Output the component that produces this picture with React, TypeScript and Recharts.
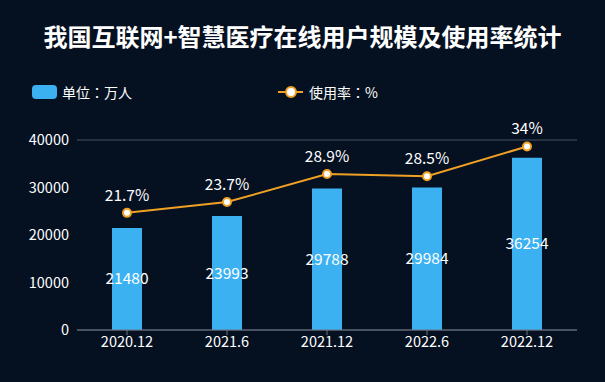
import {
  Bar,
  CartesianGrid,
  ComposedChart,
  LabelList,
  Line,
  XAxis,
  YAxis,
} from "recharts";

const periods = ["2020.12", "2021.6", "2021.12", "2022.6", "2022.12"];
const users = [21480, 23993, 29788, 29984, 36254];
const usageRate = [21.7, 23.7, 28.9, 28.5, 34];
const userTicks = [0, 10000, 20000, 30000, 40000];

const data = periods.map((p, i) => ({
  period: p,
  users: users[i],
  rate: usageRate[i],
}));

const BG = "#051121";
const BLUE = "#3cb1f2";
const ORANGE = "#f0a024";
const FONT = "'Noto Sans CJK SC', 'Noto Sans', sans-serif";
// JP face centres the full-width colon like the original
const LEGEND_FONT = "'Noto Sans CJK JP', 'Noto Sans CJK SC', sans-serif";

export default function App() {
  return (
    <div
      style={{
        position: "absolute",
        left: 0,
        top: 0,
        width: 605,
        height: 382,
        background: BG,
        fontFamily: FONT,
        overflow: "hidden",
      }}
    >
      <div
        style={{
          position: "absolute",
          top: 18,
          width: 605,
          textAlign: "center",
          color: "#fff",
          fontSize: 24,
          fontWeight: "bold",
          lineHeight: "36px",
        }}
      >
        我国互联网+智慧医疗在线用户规模及使用率统计
      </div>

      <div
        style={{
          position: "absolute",
          top: 82,
          left: 32,
          display: "flex",
          alignItems: "center",
          color: "#fff",
          fontSize: 14,
          lineHeight: "20px",
          fontFamily: LEGEND_FONT,
        }}
      >
        <span
          style={{
            width: 25,
            height: 14,
            borderRadius: 4,
            background: BLUE,
            marginRight: 5,
            display: "inline-block",
          }}
        />
        单位：万人
      </div>
      <div
        style={{
          position: "absolute",
          top: 82,
          left: 278,
          display: "flex",
          alignItems: "center",
          color: "#fff",
          fontSize: 14,
          lineHeight: "20px",
          fontFamily: LEGEND_FONT,
        }}
      >
        <svg width={25} height={14} style={{ marginRight: 6 }}>
          <line x1={0} y1={7} x2={25} y2={7} stroke={ORANGE} strokeWidth={2} />
          <circle cx={13} cy={7} r={5} fill="#fff" stroke={ORANGE} strokeWidth={2} />
        </svg>
        使用率：%
      </div>

      <ComposedChart
        width={605}
        height={382}
        data={data}
        margin={{ top: 140, right: 28, bottom: 22, left: 17 }}
      >
        <CartesianGrid vertical={false} stroke="#4b535e" />
        <XAxis
          dataKey="period"
          stroke="#6c7480"
          tickLine={{ stroke: "#6c7480" }}
          tick={{ fill: "#fff", fontSize: 14.5, fontFamily: FONT }}
          tickSize={5}
        />
        <YAxis
          yAxisId="left"
          width={60}
          domain={[0, 40000]}
          ticks={userTicks}
          axisLine={false}
          tickLine={false}
          tick={{ fill: "#fff", fontSize: 14.5, fontFamily: FONT }}
        />
        <YAxis yAxisId="right" orientation="right" hide domain={[0, 35.2]} />
        <Bar
          yAxisId="left"
          dataKey="users"
          fill={BLUE}
          barSize={30}
          isAnimationActive={false}
        >
          <LabelList
            dataKey="users"
            position="center"
            fill="#fff"
            fontSize={15.5}
            fontFamily={FONT}
          />
        </Bar>
        <Line
          yAxisId="right"
          dataKey="rate"
          stroke={ORANGE}
          strokeWidth={2}
          dot={{ r: 4, fill: "#fff", stroke: ORANGE, strokeWidth: 2 }}
          isAnimationActive={false}
        >
          <LabelList
            dataKey="rate"
            position="top"
            offset={12}
            fill="#fff"
            fontSize={15.5}
            fontFamily={FONT}
            formatter={(v: number) => `${v}%`}
          />
        </Line>
      </ComposedChart>
    </div>
  );
}
